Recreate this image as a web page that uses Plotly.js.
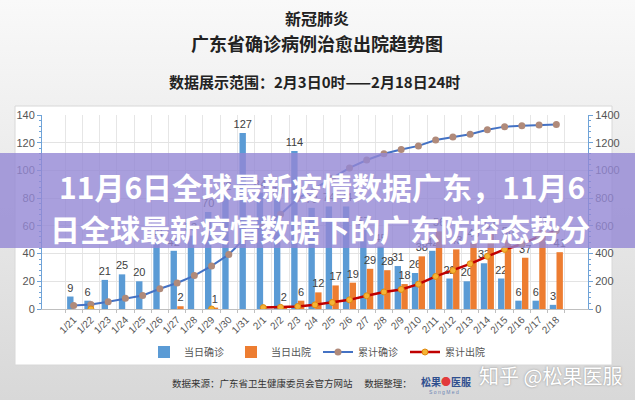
<!DOCTYPE html>
<html>
<head>
<meta charset="utf-8">
<script src="https://cdn.plot.ly/plotly-3.0.1.min.js"></script>
<style>
body { margin: 0; }
#chart { width: 635px; height: 400px; background: linear-gradient(#f9f9f9, #d8d8d8); }
</style>
</head>
<body>
<div id="chart"></div>
<script>
// datos (1/21 - 2/18)
var dates = ['1/21','1/22','1/23','1/24','1/25','1/26','1/27','1/28','1/29','1/30','1/31',
             '2/1','2/2','2/3','2/4','2/5','2/6','2/7','2/8','2/9','2/10','2/11','2/12','2/13','2/14','2/15','2/16','2/17','2/18'];
var dailyConfirmed = [9,6,21,25,20,48,42,53,70,82,127,84,79,114,73,74,74,57,45,31,26,42,22,20,33,22,6,6,3];
var dailyDischarged = [null,null,null,null,null,null,2,null,1,null,null,null,2,6,12,17,19,29,28,18,38,56,43,48,54,50,37,57,41];
var cumConfirmed = [26,32,53,78,98,146,188,241,311,393,520,604,683,797,870,944,1018,1075,1120,1151,1177,1219,1241,1261,1294,1316,1322,1328,1331];
var cumDischarged = [null,0,null,null,null,null,null,null,0,null,null,10,12,18,30,47,66,95,123,141,179,235,278,326,380,430,467,524,565];

var legendNames = ['当日确诊','当日出院','累计确诊','累计出院'];

var titleTop = '新冠肺炎';
var titleMain = '广东省确诊病例治愈出院趋势图';
var titleRange = '数据展示范围：2月3日0时——2月18日24时';
var bannerLine1 = '11月6日全球最新疫情数据广东，11月6';
var bannerLine2 = '日全球最新疫情数据下的广东防控态势分';
var sourceText = '数据来源：广东省卫生健康委员会官方网站　 数据整理：';

var cjk = '"Noto Sans CJK SC", "Noto Sans", sans-serif';
var latin = '"Liberation Sans", Arial, sans-serif';

function labels(arr) {
    var out = [];
    for (var i = 0; i < arr.length; i++) {
        out.push(arr[i] === null ? '' : String(arr[i]));
    }
    return out;
}

var traceDailyC = {
    x: dates, y: dailyConfirmed, type: 'bar', name: legendNames[0],
    marker: { color: '#5b9bd5' },
    text: labels(dailyConfirmed), textposition: 'outside', cliponaxis: false, constraintext: 'none',
    textfont: { family: latin, size: 11, color: '#404040' }
};
var traceDailyD = {
    x: dates, y: dailyDischarged, type: 'bar', name: legendNames[1],
    marker: { color: '#ed7d31' },
    text: labels(dailyDischarged), textposition: 'outside', cliponaxis: false, constraintext: 'none',
    textfont: { family: latin, size: 11, color: '#404040' }
};
var traceCumC = {
    x: dates, y: cumConfirmed, yaxis: 'y2', mode: 'lines+markers', name: legendNames[2],
    line: { color: '#4472c4', width: 2 },
    marker: { color: '#b08a7a', size: 7 }
};
var traceCumD = {
    x: dates, y: cumDischarged, yaxis: 'y2', mode: 'lines+markers', name: legendNames[3],
    connectgaps: false,
    line: { color: '#c00000', width: 2.5 },
    marker: { color: '#f5b335', size: 6, line: { color: '#e08a10', width: 1 } }
};

// paper coords: plot area is x 42..588, y 115..309 px
function px(x) { return (x - 42) / 546; }
function py(y) { return (309 - y) / 194; }

function note(txt, x, y, font) {
    return { text: txt, xref: 'paper', yref: 'paper', x: px(x), y: py(y),
             xanchor: 'center', yanchor: 'middle', showarrow: false, font: font };
}

var layout = {
    width: 635, height: 400,
    margin: { l: 42, r: 47, t: 115, b: 91 },
    paper_bgcolor: 'rgba(0,0,0,0)',
    plot_bgcolor: 'rgba(0,0,0,0)',
    font: { family: latin, size: 11, color: '#444' },
    barmode: 'group', bargap: 0.22, bargroupgap: 0.05,
    showlegend: true,
    legend: {
        orientation: 'h', x: px(318), xanchor: 'center', y: py(352), yanchor: 'middle',
        font: { family: cjk, size: 10, color: '#555' }, bgcolor: 'rgba(0,0,0,0)',
        traceorder: 'normal', itemwidth: 30, entrywidth: 42, entrywidthmode: 'pixels'
    },
    xaxis: {
        type: 'category', tickangle: -45, tickson: 'boundaries',
        showgrid: true, gridcolor: '#e6e6e6',
        showline: true, linecolor: '#bfbfbf', ticks: 'outside', ticklen: 3, tickcolor: '#bfbfbf',
        tickfont: { family: latin, size: 10, color: '#555' }
    },
    yaxis: {
        range: [0, 140], dtick: 20, showgrid: true, gridcolor: '#e3e3e3',
        showline: true, linecolor: '#6fa3d8', ticks: 'outside', ticklen: 4, tickcolor: '#6fa3d8',
        minor: { dtick: 4, ticks: 'outside', ticklen: 2, tickcolor: '#6fa3d8', showgrid: false },
        zeroline: false, tickfont: { family: latin, size: 11, color: '#555' }
    },
    yaxis2: {
        range: [0, 1400], dtick: 200, overlaying: 'y', side: 'right', showgrid: false,
        showline: true, linecolor: '#6fa3d8', ticks: 'outside', ticklen: 4, tickcolor: '#6fa3d8',
        minor: { dtick: 40, ticks: 'outside', ticklen: 2, tickcolor: '#6fa3d8', showgrid: false },
        zeroline: false, tickfont: { family: latin, size: 11, color: '#555' }
    },
    shapes: [
        // panel blanco
        { type: 'rect', xref: 'paper', yref: 'paper', layer: 'below',
          x0: px(15), x1: px(612), y0: py(365), y1: py(106),
          fillcolor: '#ffffff', line: { color: '#d8d8d8', width: 1 } },
        // banda morada
        { type: 'rect', xref: 'paper', yref: 'paper', layer: 'above',
          x0: px(0), x1: px(635), y0: py(248), y1: py(153),
          fillcolor: 'rgba(148,135,212,0.8)', line: { width: 0 } }
    ],
    annotations: [
        note(titleTop, 317, 18, { family: cjk, size: 16, color: '#222', weight: 'bold' }),
        note(titleMain, 317, 43, { family: cjk, size: 18, color: '#222', weight: 'bold' }),
        note(titleRange, 314, 82, { family: cjk, size: 15, color: '#222', weight: 'bold' }),
        note(bannerLine1, 322, 186, { family: cjk, size: 30, color: '#ffffff', weight: 'bold' }),
        note(bannerLine2, 320, 228, { family: cjk, size: 30, color: '#ffffff', weight: 'bold' }),
        note(sourceText, 292, 383, { family: cjk, size: 9.5, color: '#333' }),
        note('<span style="color:#2f4f8f">松果</span><span style="color:#e23b3b">●</span><span style="color:#2f4f8f">医服</span>',
             446, 381, { family: cjk, size: 10, color: '#2f4f8f', weight: 'bold' }),
        note('S o n g M e d', 444, 392, { family: latin, size: 5, color: '#6d86b5' }),
        note('知乎 @松果医服', 550, 375, { family: cjk, size: 20, color: '#ffffff',
             shadow: '0 0 2px rgba(60,60,60,0.5)' })
    ]
};

var data = [traceDailyC, traceDailyD, traceCumC, traceCumD];
Plotly.newPlot('chart', data, layout, { staticPlot: true, displayModeBar: false });
</script>
</body>
</html>
